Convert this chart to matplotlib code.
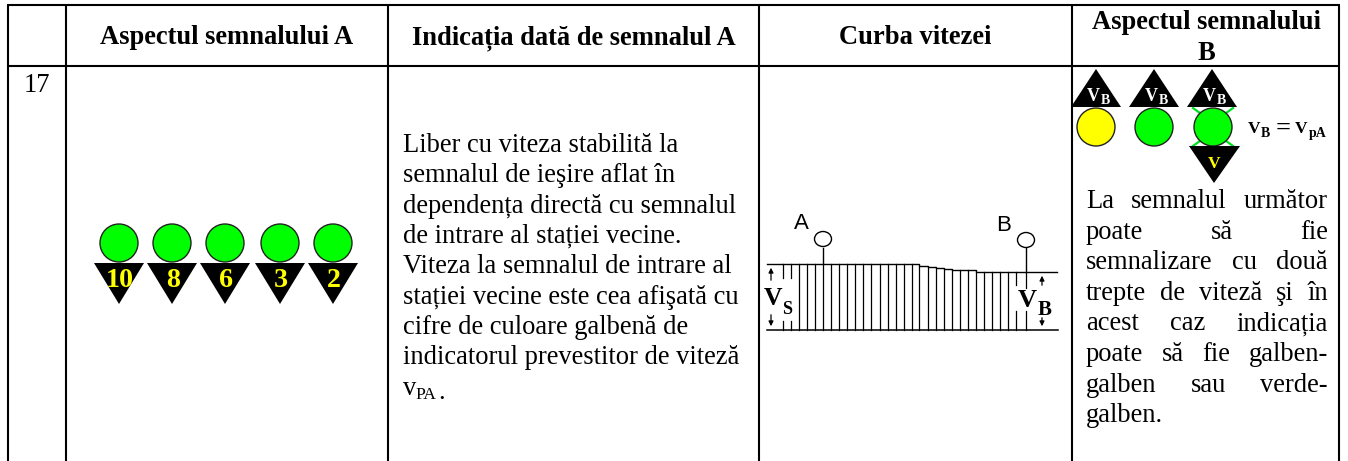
import matplotlib
matplotlib.use('Agg')
import matplotlib.pyplot as plt
from matplotlib.patches import Circle, Ellipse, Polygon

# table content
header_labels = ["Aspectul semnalului A", "Indicația dată de semnalul A", "Curba vitezei"]
header_last = ["Aspectul semnalului", "B"]
row_number = "17"
digits_a = ["10", "8", "6", "3", "2"]
body_lines = ["Liber cu viteza stabilită la",
              "semnalul de ieşire aflat în",
              "dependența directă cu semnalul",
              "de intrare al stației vecine.",
              "Viteza la semnalul de intrare al",
              "stației vecine este cea afişată cu",
              "cifre de culoare galbenă de",
              "indicatorul prevestitor de viteză"]
right_lines = ["La semnalul următor",
               "poate să fie",
               "semnalizare cu două",
               "trepte de viteză şi în",
               "acest caz indicația",
               "poate să fie galben-",
               "galben sau verde-",
               "galben."]
colors_b = ["#ffff00", "#00ff00", "#00ff00"]

# speed curve (pixels of the drawing)
hatch_x = [783, 791, 799, 807, 815, 823, 831, 839, 847, 855, 863, 871, 880, 888, 896, 904,
           912, 919, 928, 936, 944, 952, 960, 968, 976, 984, 992, 1000, 1008, 1016, 1026]
hatch_top = [264, 264, 264, 264, 264, 264, 264, 264, 264, 264, 264, 264, 264, 264, 264, 264,
             264, 266, 267, 268, 269, 270, 270, 270, 272, 272, 272, 272, 272, 272, 272]

# layout in pixels
col_x = [8, 66, 388, 759, 1072, 1339]
top_y, head_y = 5, 66
W, H = 1348, 461
FS = 26.5 * 0.72
serif = 'Liberation Serif'

fig = plt.figure(figsize=(W / 100, H / 100), dpi=100)
ax = fig.add_axes([0, 0, 1, 1])
ax.set_xlim(0, W)
ax.set_ylim(H, 0)
ax.axis('off')

# grid
for x in col_x:
    ax.plot([x, x], [top_y, H], color='black', lw=1.5, solid_capstyle='butt')
for y in [top_y, head_y]:
    ax.plot([col_x[0] - 1, col_x[-1] + 1], [y, y], color='black', lw=1.5, solid_capstyle='butt')


def txt(x, y, s, size=FS, weight='normal', color='black', ha='left', va='baseline', family=serif, zorder=5):
    return ax.text(x, y, s, fontsize=size, fontweight=weight, color=color, ha=ha, va=va,
                   family=family, zorder=zorder)


# header
for i, label in enumerate(header_labels):
    txt((col_x[i + 1] + col_x[i + 2]) / 2, 44, label, weight='bold', ha='center')
txt(1206, 29, header_last[0], weight='bold', ha='center')
txt(1206, 60, header_last[1], weight='bold', ha='center')
txt(37, 92, row_number, ha='center')

# signal A
for digit, cx in zip(digits_a, [119, 172, 225, 280, 333]):
    ax.add_patch(Circle((cx, 243), 19, fc='#00ff00', ec='#222222', lw=1, zorder=2))
    ax.add_patch(Polygon([(cx - 25, 263), (cx + 25, 263), (cx, 304)], fc='black', ec='none', zorder=3))
    txt(cx + 1, 287, digit, size=28 * 0.72, weight='bold', color='#ffff00', ha='center')

# description
for i, line in enumerate(body_lines):
    txt(403, 152 + i * 30.3, line)
txt(403, 395, "v", size=FS)
txt(415, 399, "PA", size=FS * 0.66)
txt(438, 399, ".", size=FS)

# speed curve
base_y = 330
for x, t in zip(hatch_x, hatch_top):
    if x in (783, 791):
        ax.plot([x, x], [t, 278], color='black', lw=0.9)
        ax.plot([x, x], [321, base_y], color='black', lw=0.9)
    elif x == 1016:
        ax.plot([x, x], [t, 285], color='black', lw=0.9)
        ax.plot([x, x], [311, base_y], color='black', lw=0.9)
    elif x == 1026:
        ax.plot([x, x], [t, 288], color='black', lw=0.9)
        ax.plot([x, x], [311, base_y], color='black', lw=0.9)
    else:
        ax.plot([x, x], [t, base_y], color='black', lw=0.9)
ax.plot([767] + hatch_x[:25] + [1057], [264] + hatch_top[:24] + [272, 272], color='black', lw=1,
        drawstyle='steps-post')
ax.plot([767, 1058], [base_y, base_y], color='black', lw=1.1)
ax.plot([823, 823], [248, 264], color='black', lw=1)
ax.plot([1026, 1026], [248, 272], color='black', lw=1)
ax.add_patch(Ellipse((823, 239), 17, 15, fc='white', ec='black', lw=1))
ax.add_patch(Ellipse((1026, 240), 17, 15, fc='white', ec='black', lw=1))
txt(801, 229, "A", size=16, family='Liberation Sans', ha='center')
txt(1004, 231, "B", size=16, family='Liberation Sans', ha='center')
txt(772.5, 305, "V", size=18.5, weight='bold', ha='center')
txt(782, 314, "S", size=13, weight='bold', ha='left')
txt(1027, 307, "V", size=19, weight='bold', ha='center')
txt(1038, 315, "B", size=15, weight='bold', ha='left')
for x, y0, y1, y2, y3 in [(771, 265, 283, 329, 312), (1042, 273, 288, 329, 315)]:
    ax.annotate('', xy=(x, y0), xytext=(x, y1), arrowprops=dict(arrowstyle='-|>', color='black', lw=0.9, mutation_scale=7))
    ax.annotate('', xy=(x, y2), xytext=(x, y3), arrowprops=dict(arrowstyle='-|>', color='black', lw=0.9, mutation_scale=7))

# signal B
for color, cx, tx in zip(colors_b, [1096, 1154, 1213], [1096, 1154, 1212]):
    ax.add_patch(Polygon([(tx - 25, 107), (tx + 25, 107), (tx, 69)], fc='black', ec='none', zorder=3))
    ax.add_patch(Circle((cx, 127), 19, fc=color, ec='#222222', lw=1, zorder=2))
    txt(tx - 2.5, 101, "V", size=13, weight='bold', color='white', ha='center')
    txt(tx + 4.5, 104, "B", size=10, weight='bold', color='white', ha='left')
for (x0, y0, x1, y1) in [(1193, 108, 1204, 116), (1233, 108, 1222, 116),
                         (1193, 146, 1204, 138), (1233, 146, 1222, 138)]:
    ax.plot([x0, x1], [y0, y1], color='#00e020', lw=1.6, zorder=1)
ax.add_patch(Polygon([(1189, 146), (1240, 146), (1214, 183)], fc='black', ec='none', zorder=3))
txt(1214, 168, "V", size=12.5, weight='bold', color='#ffff00', ha='center')

txt(1248, 133, "V", size=12.5, weight='bold')
txt(1261, 137, "B", size=10, weight='bold')
txt(1276, 135, "=", size=19, weight='bold')
txt(1295, 133, "V", size=12.5, weight='bold')
txt(1308.5, 137, "pA", size=10, weight='bold')

# justified text on the right
left, right = 1086, 1328
renderer = fig.canvas.get_renderer()
for i, line in enumerate(right_lines):
    y = 208 + i * 30.6
    words = line.split()
    if i == len(right_lines) - 1:
        txt(left, y, line)
        continue
    items = [txt(left, y, w) for w in words]
    widths = [t.get_window_extent(renderer).width for t in items]
    gap = (right - left - sum(widths)) / (len(words) - 1)
    pos = left
    for t, w in zip(items, widths):
        t.set_x(pos)
        pos += w + gap

fig.savefig('out.png', dpi=100)
plt.close(fig)
